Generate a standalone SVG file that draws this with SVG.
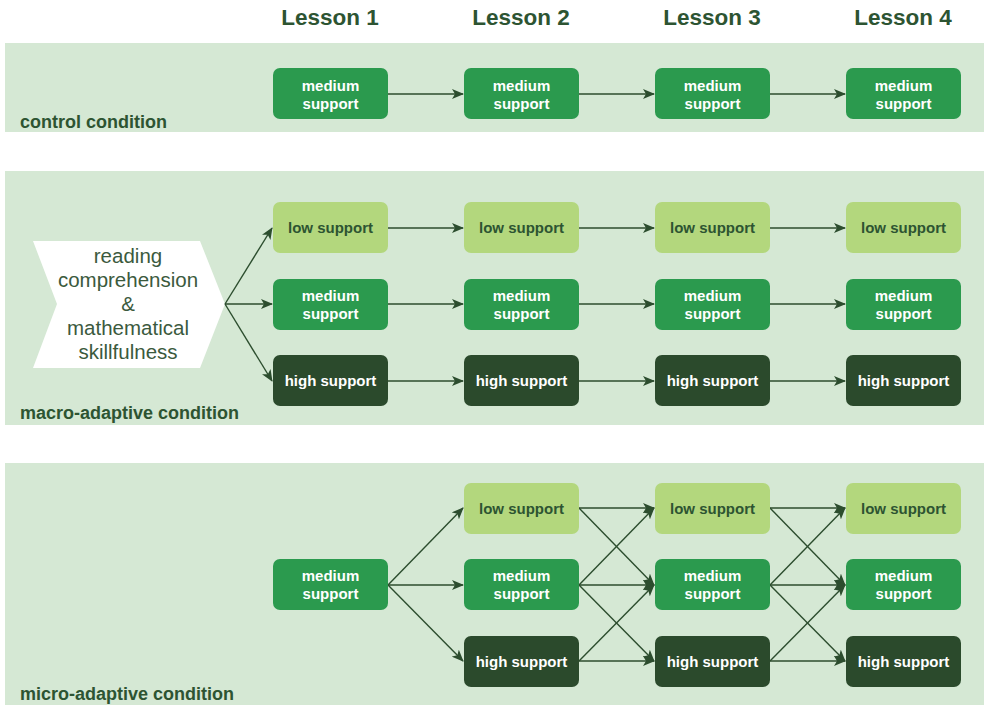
<svg xmlns="http://www.w3.org/2000/svg" width="984" height="705" viewBox="0 0 984 705">
  <defs>
    <marker id="arrow" viewBox="0 0 12 10" refX="11" refY="5" markerWidth="12" markerHeight="10" markerUnits="userSpaceOnUse" orient="auto">
      <path d="M0,0 L12,5 L0,10 L3,5 Z" fill="#2c4d2e"/>
    </marker>
  </defs>
  <style>
    .band { fill: #d5e8d4; }
    .head { font-family: "Liberation Sans", Arial, sans-serif; font-weight: bold; font-size: 22.5px; fill: #2d5432; text-anchor: middle; }
    .cond { font-family: "Liberation Sans", Arial, sans-serif; font-weight: bold; font-size: 18px; fill: #2d5432; }
    .low rect { fill: #b3d77d; }
    .med rect { fill: #2b9a4e; }
    .high rect { fill: #2b4a2c; }
    .node text { font-family: "Liberation Sans", Arial, sans-serif; font-weight: bold; font-size: 15px; text-anchor: middle; }
    .low text { fill: #2d5432; }
    .med text, .high text { fill: #ffffff; }
    .edge { stroke: #2c4d2e; stroke-width: 1.4; fill: none; marker-end: url(#arrow); }
    .chev text { font-family: "Liberation Sans", Arial, sans-serif; font-size: 20.5px; fill: #3b5a3d; text-anchor: middle; }
  </style>

  <!-- condition bands -->
  <rect class="band" x="5" y="43" width="979" height="89"/>
  <rect class="band" x="5" y="171" width="979" height="254"/>
  <rect class="band" x="5" y="463" width="979" height="242"/>

  <!-- lesson headings -->
  <g id="headings">
    <text class="head" x="330" y="25">Lesson 1</text>
    <text class="head" x="521" y="25">Lesson 2</text>
    <text class="head" x="712" y="25">Lesson 3</text>
    <text class="head" x="903" y="25">Lesson 4</text>
  </g>

  <!-- condition labels -->
  <text class="cond" x="20" y="128">control condition</text>
  <text class="cond" x="20" y="419">macro-adaptive condition</text>
  <text class="cond" x="20" y="700">micro-adaptive condition</text>

  <!-- pretest chevron -->
  <g id="pretest" class="chev">
    <polygon points="33,241 200,241 225,304 200,368 33,368 57,304" fill="#ffffff"/>
    <text x="128" y="263">reading</text>
    <text x="128" y="287">comprehension</text>
    <text x="128" y="311">&amp;</text>
    <text x="128" y="335">mathematical</text>
    <text x="128" y="359">skillfulness</text>
  </g>

  <!-- connectors -->
  <g id="connectors">
    <!-- control -->
    <line class="edge" x1="388" y1="94" x2="463" y2="94"/>
    <line class="edge" x1="579" y1="94" x2="654" y2="94"/>
    <line class="edge" x1="770" y1="94" x2="845" y2="94"/>
    <!-- macro: from chevron -->
    <line class="edge" x1="225" y1="304" x2="272" y2="228"/>
    <line class="edge" x1="225" y1="304" x2="272" y2="304"/>
    <line class="edge" x1="225" y1="304" x2="272" y2="381"/>
    <!-- macro rows -->
    <line class="edge" x1="388" y1="228" x2="463" y2="228"/>
    <line class="edge" x1="579" y1="228" x2="654" y2="228"/>
    <line class="edge" x1="770" y1="228" x2="845" y2="228"/>
    <line class="edge" x1="388" y1="304" x2="463" y2="304"/>
    <line class="edge" x1="579" y1="304" x2="654" y2="304"/>
    <line class="edge" x1="770" y1="304" x2="845" y2="304"/>
    <line class="edge" x1="388" y1="381" x2="463" y2="381"/>
    <line class="edge" x1="579" y1="381" x2="654" y2="381"/>
    <line class="edge" x1="770" y1="381" x2="845" y2="381"/>
    <!-- micro: lesson 1 to lesson 2 -->
    <line class="edge" x1="388" y1="585" x2="463" y2="508"/>
    <line class="edge" x1="388" y1="585" x2="463" y2="585"/>
    <line class="edge" x1="388" y1="585" x2="463" y2="661"/>
    <!-- micro: lesson 2 to lesson 3 -->
    <line class="edge" x1="579" y1="508" x2="654" y2="508"/>
    <line class="edge" x1="579" y1="508" x2="654" y2="585"/>
    <line class="edge" x1="579" y1="585" x2="654" y2="508"/>
    <line class="edge" x1="579" y1="585" x2="654" y2="585"/>
    <line class="edge" x1="579" y1="585" x2="654" y2="661"/>
    <line class="edge" x1="579" y1="661" x2="654" y2="585"/>
    <line class="edge" x1="579" y1="661" x2="654" y2="661"/>
    <!-- micro: lesson 3 to lesson 4 -->
    <line class="edge" x1="770" y1="508" x2="845" y2="508"/>
    <line class="edge" x1="770" y1="508" x2="845" y2="585"/>
    <line class="edge" x1="770" y1="585" x2="845" y2="508"/>
    <line class="edge" x1="770" y1="585" x2="845" y2="585"/>
    <line class="edge" x1="770" y1="585" x2="845" y2="661"/>
    <line class="edge" x1="770" y1="661" x2="845" y2="585"/>
    <line class="edge" x1="770" y1="661" x2="845" y2="661"/>
  </g>

  <!-- control condition nodes -->
  <g id="ctrl-l1" class="node med"><rect x="273" y="68" width="115" height="51" rx="7"/><text x="330.5" y="91">medium</text><text x="330.5" y="109">support</text></g>
  <g id="ctrl-l2" class="node med"><rect x="464" y="68" width="115" height="51" rx="7"/><text x="521.5" y="91">medium</text><text x="521.5" y="109">support</text></g>
  <g id="ctrl-l3" class="node med"><rect x="655" y="68" width="115" height="51" rx="7"/><text x="712.5" y="91">medium</text><text x="712.5" y="109">support</text></g>
  <g id="ctrl-l4" class="node med"><rect x="846" y="68" width="115" height="51" rx="7"/><text x="903.5" y="91">medium</text><text x="903.5" y="109">support</text></g>

  <!-- macro-adaptive nodes -->
  <g id="macro-low-l1" class="node low"><rect x="273" y="202" width="115" height="51" rx="7"/><text x="330.5" y="233">low support</text></g>
  <g id="macro-low-l2" class="node low"><rect x="464" y="202" width="115" height="51" rx="7"/><text x="521.5" y="233">low support</text></g>
  <g id="macro-low-l3" class="node low"><rect x="655" y="202" width="115" height="51" rx="7"/><text x="712.5" y="233">low support</text></g>
  <g id="macro-low-l4" class="node low"><rect x="846" y="202" width="115" height="51" rx="7"/><text x="903.5" y="233">low support</text></g>

  <g id="macro-med-l1" class="node med"><rect x="273" y="279" width="115" height="51" rx="7"/><text x="330.5" y="301">medium</text><text x="330.5" y="319">support</text></g>
  <g id="macro-med-l2" class="node med"><rect x="464" y="279" width="115" height="51" rx="7"/><text x="521.5" y="301">medium</text><text x="521.5" y="319">support</text></g>
  <g id="macro-med-l3" class="node med"><rect x="655" y="279" width="115" height="51" rx="7"/><text x="712.5" y="301">medium</text><text x="712.5" y="319">support</text></g>
  <g id="macro-med-l4" class="node med"><rect x="846" y="279" width="115" height="51" rx="7"/><text x="903.5" y="301">medium</text><text x="903.5" y="319">support</text></g>

  <g id="macro-high-l1" class="node high"><rect x="273" y="355" width="115" height="51" rx="7"/><text x="330.5" y="386">high support</text></g>
  <g id="macro-high-l2" class="node high"><rect x="464" y="355" width="115" height="51" rx="7"/><text x="521.5" y="386">high support</text></g>
  <g id="macro-high-l3" class="node high"><rect x="655" y="355" width="115" height="51" rx="7"/><text x="712.5" y="386">high support</text></g>
  <g id="macro-high-l4" class="node high"><rect x="846" y="355" width="115" height="51" rx="7"/><text x="903.5" y="386">high support</text></g>

  <!-- micro-adaptive nodes -->
  <g id="micro-med-l1" class="node med"><rect x="273" y="559" width="115" height="51" rx="7"/><text x="330.5" y="581">medium</text><text x="330.5" y="599">support</text></g>

  <g id="micro-low-l2" class="node low"><rect x="464" y="483" width="115" height="51" rx="7"/><text x="521.5" y="514">low support</text></g>
  <g id="micro-med-l2" class="node med"><rect x="464" y="559" width="115" height="51" rx="7"/><text x="521.5" y="581">medium</text><text x="521.5" y="599">support</text></g>
  <g id="micro-high-l2" class="node high"><rect x="464" y="636" width="115" height="51" rx="7"/><text x="521.5" y="667">high support</text></g>

  <g id="micro-low-l3" class="node low"><rect x="655" y="483" width="115" height="51" rx="7"/><text x="712.5" y="514">low support</text></g>
  <g id="micro-med-l3" class="node med"><rect x="655" y="559" width="115" height="51" rx="7"/><text x="712.5" y="581">medium</text><text x="712.5" y="599">support</text></g>
  <g id="micro-high-l3" class="node high"><rect x="655" y="636" width="115" height="51" rx="7"/><text x="712.5" y="667">high support</text></g>

  <g id="micro-low-l4" class="node low"><rect x="846" y="483" width="115" height="51" rx="7"/><text x="903.5" y="514">low support</text></g>
  <g id="micro-med-l4" class="node med"><rect x="846" y="559" width="115" height="51" rx="7"/><text x="903.5" y="581">medium</text><text x="903.5" y="599">support</text></g>
  <g id="micro-high-l4" class="node high"><rect x="846" y="636" width="115" height="51" rx="7"/><text x="903.5" y="667">high support</text></g>
</svg>
